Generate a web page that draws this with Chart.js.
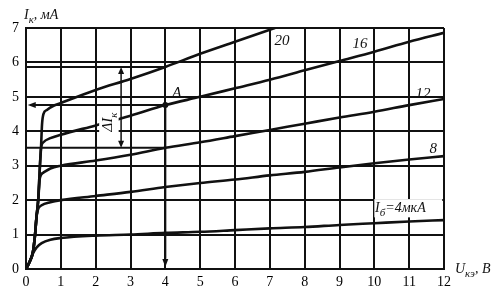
<!DOCTYPE html>
<html>
<head>
<meta charset="utf-8">
<script src="https://cdn.jsdelivr.net/npm/chart.js@4.4.1/dist/chart.umd.min.js"></script>
<style>
  html, body { margin: 0; padding: 0; background: #fff; }
  #wrap { width: 504px; height: 300px; }
</style>
</head>
<body>
<div id="wrap"><canvas id="chart"></canvas></div>
<script>
// Output characteristics of a transistor: I_к (мА) vs U_кэ (В), one curve per base current
const baseCurrents = [4, 8, 12, 16, 20]; // мкА

const u4  = [0, 0.1, 0.2, 0.3, 0.45, 0.7, 1, 2, 3, 4, 5, 6, 7, 8, 9, 10, 11, 12];
const i4  = [0, 0.2, 0.45, 0.62, 0.75, 0.85, 0.9, 0.97, 1.0, 1.05, 1.08, 1.13, 1.18, 1.22, 1.28, 1.33, 1.38, 1.42];

const u8  = [0, 0.1, 0.2, 0.26, 0.3, 0.34, 0.45, 0.7, 1, 2, 3, 4, 5, 6, 7, 8, 9, 10, 11, 12];
const i8  = [0, 0.2, 0.5, 1.0, 1.5, 1.72, 1.85, 1.94, 2.0, 2.12, 2.24, 2.38, 2.5, 2.6, 2.72, 2.82, 2.95, 3.07, 3.18, 3.28];

const u12 = [0, 0.1, 0.2, 0.26, 0.3, 0.35, 0.4, 0.5, 0.7, 1, 2, 3, 4, 5, 6, 7, 8, 9, 10, 11, 12];
const i12 = [0, 0.2, 0.5, 1.0, 1.5, 2.0, 2.65, 2.8, 2.92, 3.0, 3.15, 3.32, 3.52, 3.68, 3.86, 4.04, 4.22, 4.4, 4.57, 4.76, 4.94];

const u16 = [0, 0.1, 0.2, 0.26, 0.3, 0.35, 0.4, 0.43, 0.5, 0.7, 1, 2, 3, 4, 5, 6, 7, 8, 9, 10, 11, 12];
const i16 = [0, 0.2, 0.5, 1.0, 1.5, 2.0, 3.0, 3.5, 3.68, 3.8, 3.9, 4.17, 4.45, 4.76, 5.0, 5.25, 5.5, 5.77, 6.04, 6.31, 6.6, 6.86];

const u20 = [0, 0.1, 0.2, 0.26, 0.3, 0.35, 0.4, 0.43, 0.46, 0.5, 0.6, 0.75, 1, 2, 3, 4, 5, 6, 7, 7.15];
const i20 = [0, 0.2, 0.5, 1.0, 1.5, 2.0, 3.0, 3.5, 4.2, 4.5, 4.62, 4.72, 4.82, 5.2, 5.52, 5.87, 6.25, 6.6, 6.95, 7.0];

const uSeries = [u4, u8, u12, u16, u20];
const iSeries = [i4, i8, i12, i16, i20];

const xTicks = [0, 1, 2, 3, 4, 5, 6, 7, 8, 9, 10, 11, 12];
const yTicks = [0, 1, 2, 3, 4, 5, 6, 7];

// operating point A and the ΔI_к construction at U = 4 В
const pointA = [4, 4.76];
const deltaU = 4;
const deltaTop = 5.87;     // I_к on curve 20 at U = 4
const deltaBottom = 3.52;  // I_к on curve 12 at U = 4
const deltaArrowU = 2.73;

// curve labels: [text, U, I]
const curveLabels = [["20", 7.35, 6.65], ["16", 9.59, 6.56], ["12", 11.4, 5.11], ["8", 11.69, 3.51]];

const SERIF = '"Liberation Serif", "DejaVu Serif", serif';

function richText(ctx, parts, x, y, size) {
  let cx = x;
  for (const [t, sub] of parts) {
    ctx.font = `italic ${sub ? Math.round(size * 0.75) : size}px ${SERIF}`;
    ctx.fillText(t, cx, sub ? y + size * 0.3 : y);
    cx += ctx.measureText(t).width;
  }
  return cx - x;
}

function measureRich(ctx, parts, size) {
  let w = 0;
  for (const [t, sub] of parts) {
    ctx.font = `italic ${sub ? Math.round(size * 0.75) : size}px ${SERIF}`;
    w += ctx.measureText(t).width;
  }
  return w;
}

function head(ctx, x, y, dir, len = 7, half = 3) {
  ctx.beginPath();
  if (dir === 'left') { ctx.moveTo(x, y); ctx.lineTo(x + len, y - half); ctx.lineTo(x + len, y + half); }
  if (dir === 'down') { ctx.moveTo(x, y); ctx.lineTo(x - half, y - len); ctx.lineTo(x + half, y - len); }
  if (dir === 'up')   { ctx.moveTo(x, y); ctx.lineTo(x - half, y + len); ctx.lineTo(x + half, y + len); }
  ctx.closePath();
  ctx.fill();
}

const overlay = {
  id: 'overlay',
  afterDatasetsDraw(chart) {
    const { ctx, scales: { x, y } } = chart;
    const px = v => x.getPixelForValue(v);
    const py = v => y.getPixelForValue(v);
    ctx.save();
    ctx.strokeStyle = '#111';
    ctx.fillStyle = '#111';
    ctx.lineWidth = 2;

    // white boxes behind rotated ΔI label and the I_б label
    ctx.fillStyle = '#fff';
    ctx.fillRect(px(2.1), py(4.55), px(2.66) - px(2.1), py(3.5) - py(4.55));
    ctx.fillRect(px(10.0), py(2.03), px(11.95) - px(10.0), py(1.5) - py(2.03));
    ctx.fillStyle = '#111';

    // horizontal construction lines
    ctx.beginPath();
    for (const lvl of [deltaTop, deltaBottom]) {
      ctx.moveTo(px(0), py(lvl)); ctx.lineTo(px(deltaU), py(lvl));
    }
    ctx.moveTo(px(0.2), py(pointA[1])); ctx.lineTo(px(pointA[0]), py(pointA[1]));
    ctx.moveTo(px(pointA[0]), py(pointA[1])); ctx.lineTo(px(pointA[0]), py(0.3));
    ctx.stroke();
    head(ctx, px(0.05), py(pointA[1]), 'left', 8, 3);
    head(ctx, px(pointA[0]), py(0.06), 'down', 8, 3);

    // ΔI_к double arrow
    ctx.lineWidth = 1.5;
    ctx.beginPath();
    ctx.moveTo(px(deltaArrowU), py(deltaTop) + 5);
    ctx.lineTo(px(deltaArrowU), py(deltaBottom) - 5);
    ctx.stroke();
    head(ctx, px(deltaArrowU), py(deltaTop), 'up', 7, 3);
    head(ctx, px(deltaArrowU), py(deltaBottom), 'down', 7, 3);

    // point A
    ctx.beginPath();
    ctx.arc(px(pointA[0]), py(pointA[1]), 3, 0, Math.PI * 2);
    ctx.fill();

    // texts
    ctx.textBaseline = 'alphabetic';
    ctx.textAlign = 'left';
    ctx.font = `italic 15px ${SERIF}`;
    for (const [t, u, i] of curveLabels) {
      const w = ctx.measureText(t).width;
      ctx.fillText(t, px(u) - w / 2, py(i) + 5);
    }
    ctx.fillText('A', px(4.34) - 5, py(5.14) + 5);

    richText(ctx, [['I', false], ['б', true], ['=4мкА', false]], px(10.02), py(1.8) + 5, 14);

    // rotated ΔI_к
    const dParts = [['ΔI', false], ['к', true]];
    ctx.save();
    ctx.translate(px(2.33) + 5, py(4.27));
    ctx.rotate(-Math.PI / 2);
    richText(ctx, dParts, -measureRich(ctx, dParts, 15) / 2, 0, 15);
    ctx.restore();

    // axis titles
    richText(ctx, [['I', false], ['к', true], [', мА', false]], 24, 19, 14);
    richText(ctx, [['U', false], ['кэ', true], [', В', false]], 455, 273, 14);

    ctx.restore();
  }
};

const colors = '#111';
const datasets = baseCurrents.map((ib, k) => ({
  label: `I_б = ${ib} мкА`,
  data: uSeries[k].map((u, j) => ({ x: u, y: iSeries[k][j] })),
  showLine: true,
  borderColor: colors,
  borderWidth: 2.6,
  pointRadius: 0,
  cubicInterpolationMode: 'monotone',
  fill: false
}));

new Chart(document.getElementById('chart'), {
  type: 'scatter',
  data: { datasets },
  plugins: [overlay],
  options: {
    responsive: true,
    maintainAspectRatio: false,
    animation: false,
    layout: { padding: { top: 28, right: 60, left: 0, bottom: 0 } },
    plugins: { legend: { display: false }, tooltip: { enabled: false } },
    scales: {
      x: {
        type: 'linear', min: 0, max: 12,
        afterBuildTicks: s => { s.ticks = xTicks.map(v => ({ value: v })); },
        afterFit: s => { s.height = 31; },
        grid: { color: '#111', lineWidth: 2, drawTicks: false },
        border: { color: '#111', width: 2 },
        ticks: { color: '#000', padding: 5, maxRotation: 0, autoSkip: false, font: { family: SERIF, size: 14 } }
      },
      y: {
        type: 'linear', min: 0, max: 7,
        afterBuildTicks: s => { s.ticks = yTicks.map(v => ({ value: v })); },
        afterFit: s => { s.width = 26; },
        grid: { color: '#111', lineWidth: 2, drawTicks: false },
        border: { color: '#111', width: 2 },
        ticks: { color: '#000', padding: 7, autoSkip: false, font: { family: SERIF, size: 14 } }
      }
    }
  }
});
</script>
</body>
</html>
